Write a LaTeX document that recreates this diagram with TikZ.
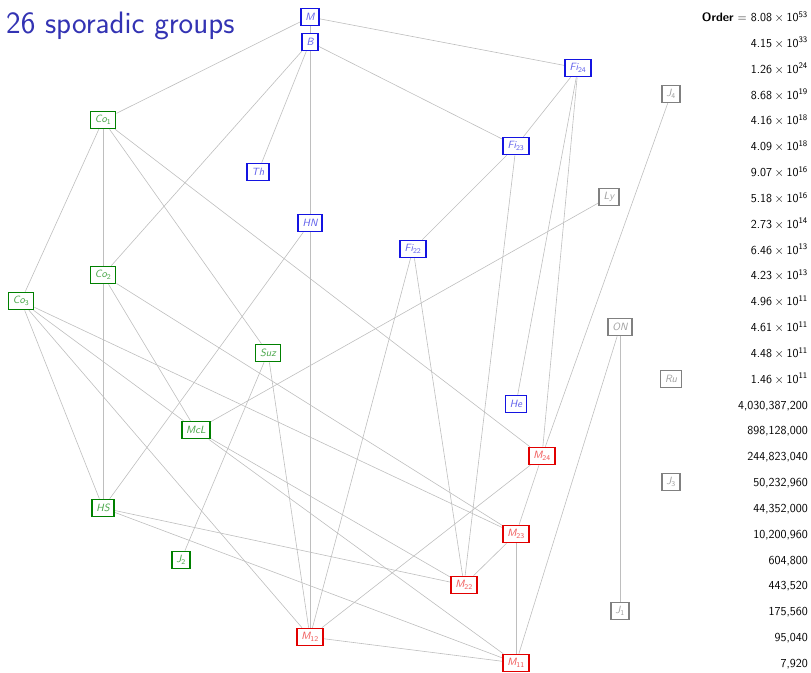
\documentclass[tikz,border=0pt]{standalone}
\usepackage{amsmath}
\usepackage{tikz}
\usetikzlibrary{backgrounds}
\definecolor{titleBlue}{RGB}{51,51,179}
\definecolor{monsterLine}{RGB}{20,20,225}
\definecolor{monsterText}{RGB}{95,95,235}
\definecolor{conwayLine}{RGB}{0,128,0}
\definecolor{conwayText}{RGB}{70,165,70}
\definecolor{mathieuLine}{RGB}{225,0,0}
\definecolor{mathieuText}{RGB}{240,85,85}
\definecolor{pariahLine}{RGB}{128,128,128}
\definecolor{pariahText}{RGB}{160,160,160}
\definecolor{edgeGray}{RGB}{190,190,190}
\def\sci#1#2{#1\hspace{2.6pt}$\times$\hspace{2.6pt}10\textsuperscript{#2}}
\def\grpname#1#2{\textit{#1}\textsubscript{\upshape#2}}
\tikzset{
  grp/.style={draw, fill=white, line width=1.6pt, inner xsep=4.5pt, inner ysep=2pt,
    minimum height=17pt, font=\sffamily\itshape\fontsize{10.5}{12}\selectfont},
  monster/.style={grp, draw=monsterLine, text=monsterText},
  conway/.style={grp, draw=conwayLine, text=conwayText},
  mathieu/.style={grp, draw=mathieuLine, text=mathieuText},
  pariah/.style={grp, draw=pariahLine, text=pariahText},
  link/.style={draw=edgeGray, line width=0.6pt},
  order/.style={anchor=base east, inner sep=0pt, font=\sffamily\fontsize{12.2}{14}\selectfont}
}
\begin{document}
\begin{tikzpicture}[x=1pt, y=-1pt]
  \useasboundingbox (0,0) rectangle (811,672);
  \node[anchor=base west, inner sep=0pt, text=titleBlue, font=\sffamily\fontsize{31}{36}\selectfont]
    (title) at (6,33) {26 sporadic groups};
  % the groups, one per row
  \node[monster] (M) at (310,17) {M};
  \node[monster] (B) at (310,42) {B};
  \node[monster] (Fi24) at (578,68) {\grpname{Fi}{24}};
  \node[pariah] (J4) at (671,94) {\grpname{J}{4}};
  \node[conway] (Co1) at (103,120) {\grpname{Co}{1}};
  \node[monster] (Fi23) at (516,146) {\grpname{Fi}{23}};
  \node[monster] (Th) at (258,172) {Th};
  \node[pariah] (Ly) at (609,197) {Ly};
  \node[monster] (HN) at (310,223) {HN};
  \node[monster] (Fi22) at (413,249) {\grpname{Fi}{22}};
  \node[conway] (Co2) at (103,275) {\grpname{Co}{2}};
  \node[conway] (Co3) at (21,301) {\grpname{Co}{3}};
  \node[pariah] (ON) at (620,327) {ON};
  \node[conway] (Suz) at (268,353) {Suz};
  \node[pariah] (Ru) at (671,379) {Ru};
  \node[monster] (He) at (516,404) {He};
  \node[conway] (McL) at (196,430) {McL};
  \node[mathieu] (M24) at (542,456) {\grpname{M}{24}};
  \node[pariah] (J3) at (671,482) {\grpname{J}{3}};
  \node[conway] (HS) at (103,508) {HS};
  \node[mathieu] (M23) at (516,534) {\grpname{M}{23}};
  \node[conway] (J2) at (181,560) {\grpname{J}{2}};
  \node[mathieu] (M22) at (464,585) {\grpname{M}{22}};
  \node[pariah] (J1) at (620,611) {\grpname{J}{1}};
  \node[mathieu] (M12) at (310,637) {\grpname{M}{12}};
  \node[mathieu] (M11) at (516,663) {\grpname{M}{11}};
  % subquotient lines
  \begin{scope}[on background layer]
    \foreach \a/\b in {M/B, M/Co1, M/Fi24, B/Th, B/HN, B/Co2, B/Fi23,
        Fi24/Fi23, Fi24/He, Fi24/M24, Fi23/Fi22, Fi23/M22, Fi22/M22, Fi22/M12,
        J4/M24, Ly/McL, ON/J1, ON/M11, Co1/Co2, Co1/Co3, Co1/Suz, Co1/M24,
        Co2/McL, Co2/HS, Co2/M23, Co3/HS, Co3/McL, Co3/M23, Co3/M12,
        HN/HS, HN/M12, Suz/J2, Suz/M12, McL/M22, McL/M11, HS/M22, HS/M11,
        M24/M23, M24/M12, M23/M22, M23/M11, M12/M11}
      \draw[link] (\a) -- (\b);
  \end{scope}
  % orders down the right side
  \node[order] (ord0) at (808,21.5) {\textbf{Order} $=$ \sci{8.08}{53}};
  \foreach \v [count=\i] in {{\sci{4.15}{33}}, {\sci{1.26}{24}}, {\sci{8.68}{19}},
      {\sci{4.16}{18}}, {\sci{4.09}{18}}, {\sci{9.07}{16}}, {\sci{5.18}{16}},
      {\sci{2.73}{14}}, {\sci{6.46}{13}}, {\sci{4.23}{13}}, {\sci{4.96}{11}},
      {\sci{4.61}{11}}, {\sci{4.48}{11}}, {\sci{1.46}{11}}, {4,030,387,200},
      {898,128,000}, {244,823,040}, {50,232,960}, {44,352,000},
      {10,200,960}, {604,800}, {443,520}, {175,560}, {95,040}, {7,920}}
    \node[order] (ord\i) at (808,{21.5+25.84*\i}) {\v};
\end{tikzpicture}
\end{document}
